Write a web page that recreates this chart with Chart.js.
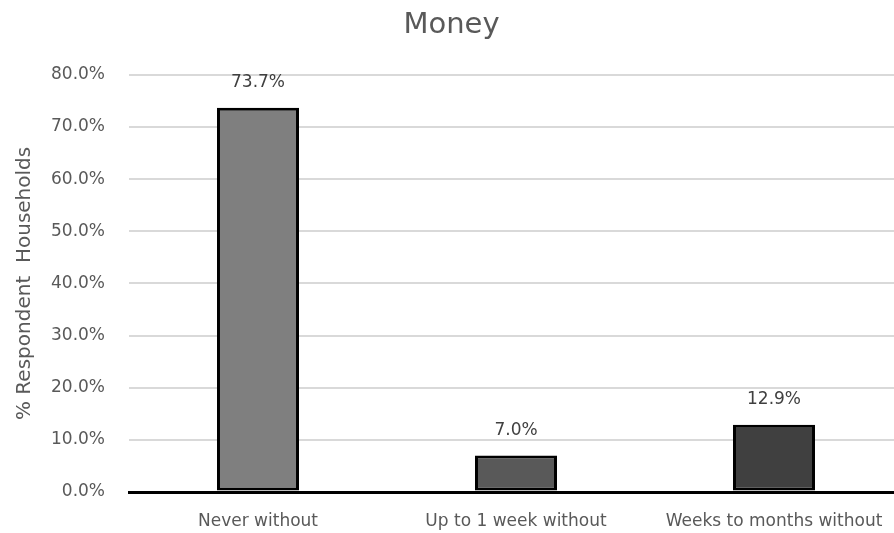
<!DOCTYPE html>
<html>
<head>
<meta charset="utf-8">
<script src="https://cdn.jsdelivr.net/npm/chart.js@4"></script>
<style>
  html, body { margin: 0; padding: 0; background: #fff; overflow: hidden; }
  #wrap { width: 912px; height: 533px; }
</style>
</head>
<body>
<div id="wrap"><canvas id="moneyChart" width="912" height="533"></canvas></div>
<script>
var categories = ["Never without", "Up to 1 week without", "Weeks to months without"];
var percents = [73.7, 7.0, 12.9];
var barColors = ["#7f7f7f", "#595959", "#404040"];
var yTicks = [0, 10, 20, 30, 40, 50, 60, 70, 80];

var FONT = "'DejaVu Sans', 'Liberation Sans', sans-serif";
var fmt = function (v) { return Number(v).toFixed(1) + "%"; };

// value labels above each bar
var valueLabels = {
  id: "valueLabels",
  afterDatasetsDraw: function (chart) {
    var ctx = chart.ctx;
    var meta = chart.getDatasetMeta(0);
    ctx.save();
    ctx.font = "17px " + FONT;
    ctx.fillStyle = "#404040";
    ctx.textAlign = "center";
    ctx.textBaseline = "middle";
    meta.data.forEach(function (bar, i) {
      ctx.fillText(fmt(percents[i]), bar.x, bar.y - 25);
    });
    ctx.restore();
  }
};

var ctx = document.getElementById("moneyChart").getContext("2d");

var chart = new Chart(ctx, {
  type: "bar",
  data: {
    labels: categories,
    datasets: [
      {
        data: percents,
        backgroundColor: barColors,
        borderColor: "#000000",
        borderWidth: 3,
        borderSkipped: false,
        categoryPercentage: 1,
        barPercentage: 0.318
      }
    ]
  },
  options: {
    responsive: false,
    animation: false,
    layout: { padding: { left: 0, right: 9, top: 0, bottom: 0 } },
    plugins: {
      legend: { display: false },
      tooltip: { enabled: false },
      title: {
        display: true,
        text: "Money",
        color: "#595959",
        font: { family: FONT, size: 29, weight: "normal" },
        padding: { top: 8, bottom: 32 }
      }
    },
    scales: {
      x: {
        grid: { display: false, drawTicks: false },
        border: { display: true, color: "#000000", width: 3 },
        ticks: {
          color: "#595959",
          font: { family: FONT, size: 17 },
          padding: 19,
          maxRotation: 0,
          autoSkip: false
        },
        afterFit: function (scale) { scale.height = 41; }
      },
      y: {
        min: 0,
        max: 80,
        afterBuildTicks: function (scale) {
          scale.ticks = yTicks.map(function (v) { return { value: v }; });
        },
        grid: {
          drawTicks: false,
          color: function (c) { return c.tick && c.tick.value === 0 ? "#000000" : "#d9d9d9"; },
          lineWidth: function (c) { return c.tick && c.tick.value === 0 ? 3 : 2; }
        },
        border: { display: false },
        ticks: {
          color: "#595959",
          font: { family: FONT, size: 17 },
          padding: 24,
          callback: function (v) { return fmt(v); }
        },
        title: {
          display: true,
          text: "% Respondent  Households",
          color: "#595959",
          font: { family: FONT, size: 20 },
          padding: { top: 13, bottom: 0 }
        },
        afterFit: function (scale) { scale.width = 129; }
      }
    }
  },
  plugins: [valueLabels]
});
</script>
</body>
</html>
